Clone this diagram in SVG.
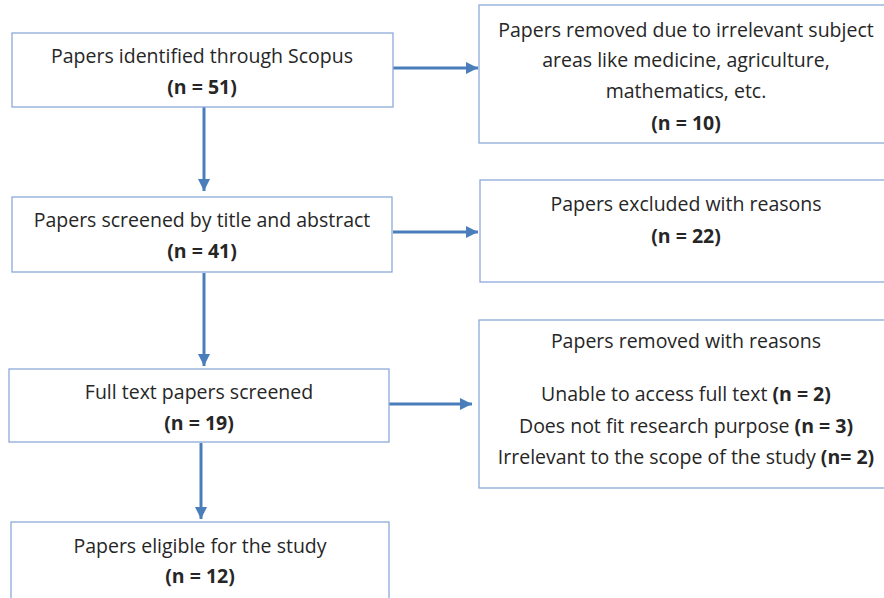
<svg xmlns="http://www.w3.org/2000/svg" width="884" height="598" viewBox="0 0 884 598">
<defs>
<style>
.box{fill:#fff;stroke:#8eaadb;stroke-width:1.3}
.t{font-family:"Open Sans","Noto Sans","Liberation Sans",sans-serif;font-size:19.5px;fill:#262626;text-anchor:middle}
.b{font-weight:bold}
.c{stroke:#4a7ebb;stroke-width:3;fill:none}
</style>
<marker id="ah" viewBox="0 0 10 10" refX="10" refY="5" markerWidth="4" markerHeight="4" markerUnits="strokeWidth" orient="auto">
<path d="M0,0 L10,5 L0,10 z" fill="#4a7ebb"/>
</marker>
</defs>
<rect width="884" height="598" fill="#fff"/>
<g id="connectors">
<line class="c" x1="204" y1="107" x2="204" y2="191" marker-end="url(#ah)"/>
<line class="c" x1="393" y1="68" x2="478" y2="68" marker-end="url(#ah)"/>
<line class="c" x1="204" y1="273" x2="204" y2="366" marker-end="url(#ah)"/>
<line class="c" x1="393" y1="232" x2="478" y2="232" marker-end="url(#ah)"/>
<line class="c" x1="201" y1="443" x2="201" y2="519" marker-end="url(#ah)"/>
<line class="c" x1="389" y1="404" x2="472" y2="404" marker-end="url(#ah)"/>
</g>
<g id="identified">
<rect class="box" x="12" y="33" width="381" height="74"/>
<text class="t" x="202" y="63">Papers identified through Scopus</text>
<text class="t b" x="202" y="94">(n = 51)</text>
</g>
<g id="removed-subject">
<rect class="box" x="479" y="5" width="414" height="138"/>
<text class="t" x="686" y="37">Papers removed due to irrelevant subject</text>
<text class="t" x="686" y="67">areas like medicine, agriculture,</text>
<text class="t" x="686" y="98">mathematics, etc.</text>
<text class="t b" x="686" y="130">(n = 10)</text>
</g>
<g id="screened">
<rect class="box" x="12" y="197" width="380" height="75"/>
<text class="t" x="202" y="227">Papers screened by title and abstract</text>
<text class="t b" x="202" y="258">(n = 41)</text>
</g>
<g id="excluded">
<rect class="box" x="480" y="180" width="413" height="102"/>
<text class="t" x="686" y="211">Papers excluded with reasons</text>
<text class="t b" x="686" y="243">(n = 22)</text>
</g>
<g id="removed-reasons">
<rect class="box" x="479" y="320" width="414" height="168"/>
<text class="t" x="686" y="348">Papers removed with reasons</text>
<text class="t" x="686" y="401">Unable to access full text <tspan class="b">(n = 2)</tspan></text>
<text class="t" x="686" y="433">Does not fit research purpose <tspan class="b">(n = 3)</tspan></text>
<text class="t" x="686" y="464">Irrelevant to the scope of the study <tspan class="b">(n= 2)</tspan></text>
</g>
<g id="fulltext">
<rect class="box" x="9" y="369" width="380" height="73"/>
<text class="t" x="199" y="399">Full text papers screened</text>
<text class="t b" x="199" y="430">(n = 19)</text>
</g>
<g id="eligible">
<rect class="box" x="11" y="522" width="378" height="90"/>
<text class="t" x="200" y="553">Papers eligible for the study</text>
<text class="t b" x="200" y="583">(n = 12)</text>
</g>
</svg>
